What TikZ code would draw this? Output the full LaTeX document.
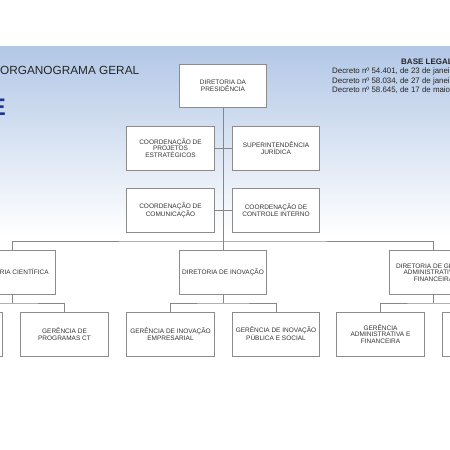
\documentclass[tikz,border=0pt]{standalone}
\usepackage{fontspec}
\setmainfont{Liberation Sans}
\definecolor{boxline}{RGB}{140,140,140}
\definecolor{linecol}{RGB}{135,135,135}
\definecolor{txt}{RGB}{50,50,50}
\definecolor{bgtop}{RGB}{178,199,230}
\definecolor{logoblue}{RGB}{35,55,140}
\begin{document}
\begin{tikzpicture}[x=1pt,y=-1pt,
  box/.style={draw=boxline, line width=1pt, fill=white, minimum width=87.5pt, minimum height=44pt,
    inner sep=1pt, align=center, text=txt, font=\fontsize{6.5}{6.7}\selectfont},
  link/.style={draw=linecol, line width=1pt},
  title/.style={inner sep=0pt, text=black!85}]
\useasboundingbox (0,0) rectangle (450,450);
\begin{scope}
\clip (0,0) rectangle (450,450);
\shade[top color=bgtop, bottom color=white] (0,46) rectangle (450,235);
% header texts
\node[title, anchor=base west, font=\fontsize{11.8}{12}\selectfont] (ttl) at (0,74) {ORGANOGRAMA GERAL};
\node[inner sep=0pt, anchor=base east, text=logoblue, font=\fontsize{24}{24}\selectfont\bfseries] (logo) at (6,115) {E};
\node[title, anchor=base west, font=\fontsize{8}{9}\selectfont\bfseries] (bl) at (401,64) {BASE LEGAL};
\node[title, anchor=base west, font=\fontsize{7.9}{9}\selectfont] (d1) at (332,73.5) {Decreto nº 54.401, de 23 de janeiro};
\node[title, anchor=base west, font=\fontsize{7.9}{9}\selectfont] (d2) at (332,83) {Decreto nº 58.034, de 27 de janeiro};
\node[title, anchor=base west, font=\fontsize{7.9}{9}\selectfont] (d3) at (332,92.5) {Decreto nº 58.645, de 17 de maio};
% nodes
\node[box, minimum height=43pt] (pres) at (223,85.5) {DIRETORIA DA\\PRESIDÊNCIA};
\node[box] (cpe) at (170.5,148) {COORDENAÇÃO DE\\PROJETOS\\ESTRATÉGICOS};
\node[box] (sj) at (276,148) {SUPERINTENDÊNCIA\\JURÍDICA};
\node[box] (cc) at (170.5,210) {COORDENAÇÃO DE\\COMUNICAÇÃO};
\node[box] (cci) at (276,210) {COORDENAÇÃO DE\\CONTROLE INTERNO};
\node[box] (dc) at (12,272) {DIRETORIA CIENTÍFICA};
\node[box] (di) at (223,272) {DIRETORIA DE INOVAÇÃO};
\node[box] (dg) at (433.5,272) {DIRETORIA DE GESTÃO\\ADMINISTRATIVA E\\FINANCEIRA};
\node[box] (g1) at (-41,334) {};
\node[box] (g2) at (64.5,334) {GERÊNCIA DE\\PROGRAMAS CT};
\node[box] (g3) at (170.5,334) {GERÊNCIA DE INOVAÇÃO\\EMPRESARIAL};
\node[box] (g4) at (276,334) {GERÊNCIA DE INOVAÇÃO\\PÚBLICA E SOCIAL};
\node[box] (g5) at (380.5,334) {GERÊNCIA\\ADMINISTRATIVA E\\FINANCEIRA};
\node[box] (g6) at (486.5,334) {};
% junctions
\coordinate (top) at (223,241);
\coordinate (jc) at (12,303);
\coordinate (ji) at (223,303);
\coordinate (jg) at (433.5,303);
% connectors
\draw[link] (pres.south) -- (di.north);
\draw[link] (cpe.east) -- (sj.west);
\draw[link] (cc.east) -- (cci.west);
\draw[link] (dc.north) |- (top) -| (dg.north);
\draw[link] (dc.south) -- (jc);
\draw[link] (g1.north) |- (jc) -| (g2.north);
\draw[link] (di.south) -- (ji);
\draw[link] (g3.north) |- (ji) -| (g4.north);
\draw[link] (dg.south) -- (jg);
\draw[link] (g5.north) |- (jg) -| (g6.north);
\end{scope}
\end{tikzpicture}
\end{document}
